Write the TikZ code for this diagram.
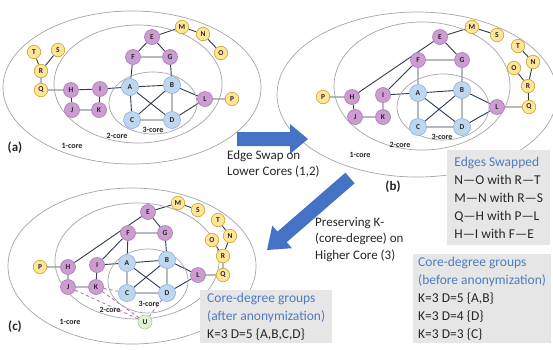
\documentclass[tikz,border=0pt]{standalone}
\usepackage{fontspec}
\setmainfont{Carlito}
\usetikzlibrary{backgrounds}
\pgfdeclarelayer{bottom}
\pgfsetlayers{bottom,background,main}
\definecolor{yfill}{RGB}{255,229,153}
\definecolor{ybord}{RGB}{201,162,39}
\definecolor{pfill}{RGB}{204,156,210}
\definecolor{pbord}{RGB}{166,123,181}
\definecolor{bfill}{RGB}{189,215,238}
\definecolor{bbord}{RGB}{143,170,220}
\definecolor{gfill}{RGB}{226,240,217}
\definecolor{gbord}{RGB}{169,209,142}
\definecolor{edgec}{RGB}{46,58,79}
\definecolor{ellc}{RGB}{166,166,166}
\definecolor{arrowc}{RGB}{68,114,196}
\definecolor{boxc}{RGB}{231,230,230}
\definecolor{titc}{RGB}{79,123,192}
\definecolor{dashc}{RGB}{176,95,176}
\definecolor{txtc}{RGB}{38,38,38}
\tikzset{
  vtx/.style={circle, inner sep=0pt, line width=0.6pt, text=txtc,
    font=\fontsize{7.5}{7.5}\selectfont\bfseries},
  yel/.style={vtx, draw=ybord, fill=yfill, minimum size=13.5pt},
  pur/.style={vtx, draw=pbord, fill=pfill, minimum size=15pt},
  blu/.style={vtx, draw=bbord, fill=bfill, minimum size=17pt},
  grn/.style={vtx, draw=gbord, fill=gfill, minimum size=14pt},
  edge/.style={draw=edgec, line width=0.9pt},
  dedge/.style={draw=dashc, dashed, line width=0.8pt},
  coreell/.style={draw=ellc, line width=0.7pt},
  corelab/.style={font=\fontsize{8}{8}\selectfont\bfseries, text=txtc, inner sep=0pt},
  panlab/.style={font=\fontsize{13}{13}\selectfont\bfseries, text=txtc, inner sep=0pt},
  bigarrow/.style={fill=arrowc, draw=none},
  infobox/.style={fill=boxc, align=left, anchor=north west, inner xsep=5pt, inner ysep=3pt,
    font=\fontsize{13.5}{18}\selectfont, text=txtc},
  plain/.style={align=left, anchor=north west, inner sep=0pt,
    font=\fontsize{13}{16.5}\selectfont, text=txtc}
}
\begin{document}
\begin{tikzpicture}[x=1pt,y=-1pt]
\useasboundingbox (0,0) rectangle (553,349);
\begin{pgfonlayer}{bottom}
\fill[white] (0,0) rectangle (553,349);
\end{pgfonlayer}

% ---------------- panel (a) ----------------
\draw[coreell] (132,87.5) ellipse [x radius=129pt, y radius=76.5pt];
\draw[coreell] (138,84) ellipse [x radius=84pt, y radius=59pt];
\draw[coreell] (153,103) ellipse [x radius=44pt, y radius=31pt];
\node[corelab] (a1c) at (72,146) {1-core};
\node[corelab] (a2c) at (117,136) {2-core};
\node[corelab] (a3c) at (153,130) {3-core};
\node[panlab] (alab) at (15,148) {(a)};

\node[yel] (aT) at (34,52) {T};
\node[yel] (aS) at (58,50) {S};
\node[yel] (aR) at (41,71) {R};
\node[yel] (aQ) at (41,90) {Q};
\node[pur] (aH) at (71,90) {H};
\node[pur] (aI) at (100,89) {I};
\node[pur] (aJ) at (72,110) {J};
\node[pur] (aK) at (99,110) {K};
\node[blu] (aA) at (130,87) {A};
\node[blu] (aB) at (172,85) {B};
\node[blu] (aC) at (132,120) {C};
\node[blu] (aD) at (172,120) {D};
\node[pur] (aL) at (205,99) {L};
\node[yel] (aP) at (232,99) {P};
\node[pur] (aF) at (133,57) {F};
\node[pur] (aG) at (170,57) {G};
\node[pur] (aE) at (152,37) {E};
\node[yel] (aM) at (182,27) {M};
\node[yel] (aN) at (203,34) {N};
\node[yel] (aO) at (221,53) {O};
\begin{scope}[on background layer]
\draw[edge] (aT)--(aR) (aS)--(aR) (aR)--(aQ) (aQ)--(aH) (aH)--(aI) (aH)--(aJ)
  (aJ)--(aK) (aK)--(aI) (aI)--(aA) (aA)--(aB) (aA)--(aC) (aA)--(aD) (aB)--(aC)
  (aB)--(aD) (aC)--(aD) (aB)--(aL) (aD)--(aL) (aL)--(aP) (aF)--(aA) (aG)--(aB)
  (aF)--(aG) (aE)--(aF) (aE)--(aG) (aE)--(aM) (aM)--(aN) (aN)--(aO);
\end{scope}

% ---------------- panel (b) ----------------
\draw[coreell] (417,94.5) ellipse [x radius=140pt, y radius=82.5pt];
\draw[coreell] (422,86) ellipse [x radius=88pt, y radius=64pt];
\draw[coreell] (443,107) ellipse [x radius=46pt, y radius=33pt];
\node[corelab] (b1c) at (360,155) {1-core};
\node[corelab] (b2c) at (400,145) {2-core};
\node[corelab] (b3c) at (442,137) {3-core};
\node[panlab] (blab) at (393,187) {(b)};

\node[yel] (bP) at (323,97) {P};
\node[pur] (bH) at (352,97) {H};
\node[pur] (bI) at (383,95) {I};
\node[pur] (bJ) at (355,117) {J};
\node[pur] (bK) at (383,117) {K};
\node[blu] (bA) at (418,93) {A};
\node[blu] (bB) at (462,90) {B};
\node[blu] (bC) at (418,127) {C};
\node[blu] (bD) at (462,127) {D};
\node[pur] (bL) at (497,107) {L};
\node[yel] (bQ) at (529,107) {Q};
\node[pur] (bF) at (418,60) {F};
\node[pur] (bG) at (462,60) {G};
\node[pur] (bE) at (440,37) {E};
\node[yel] (bM) at (472,27) {M};
\node[yel] (bS) at (497,35) {S};
\node[yel] (bT) at (518,46) {T};
\node[yel] (bN) at (533,62) {N};
\node[yel] (bO) at (514,68) {O};
\node[yel] (bR) at (528,86) {R};
\begin{scope}[on background layer]
\draw[edge] (bE)--(bM) (bM)--(bS) (bT)--(bN) (bN)--(bR) (bO)--(bR) (bR)--(bQ)
  (bQ)--(bL) (bE)--(bG) (bE)--(bH) (bF)--(bG) (bF)--(bA) (bF)--(bI) (bG)--(bB)
  (bH)--(bP) (bH)--(bJ) (bJ)--(bK) (bK)--(bI) (bI)--(bA) (bA)--(bB) (bA)--(bC)
  (bA)--(bD) (bB)--(bC) (bB)--(bD) (bC)--(bD) (bB)--(bL) (bD)--(bL);
\end{scope}

% ---------------- panel (c) ----------------
\draw[coreell] (132,266) ellipse [x radius=124pt, y radius=78pt];
\draw[coreell] (137,261) ellipse [x radius=82pt, y radius=58pt];
\draw[coreell] (148,281) ellipse [x radius=40pt, y radius=32pt];
\node[corelab] (c1c) at (70,322) {1-core};
\node[corelab] (c2c) at (110,310) {2-core};
\node[corelab] (c3c) at (149,304) {3-core};
\node[panlab] (clab) at (15,327) {(c)};

\node[yel] (cP) at (40,267) {P};
\node[pur] (cH) at (68,267) {H};
\node[pur] (cI) at (97,265) {I};
\node[pur] (cJ) at (68,287) {J};
\node[pur] (cK) at (96,287) {K};
\node[blu] (cA) at (127,263) {A};
\node[blu] (cB) at (167,260) {B};
\node[blu] (cC) at (127,293) {C};
\node[blu] (cD) at (167,293) {D};
\node[pur] (cL) at (198,275) {L};
\node[yel] (cQ) at (223,275) {Q};
\node[pur] (cF) at (128,233) {F};
\node[pur] (cG) at (165,233) {G};
\node[pur] (cE) at (148,212) {E};
\node[yel] (cM) at (178,203) {M};
\node[yel] (cS) at (198,210) {S};
\node[yel] (cT) at (218,220) {T};
\node[yel] (cN) at (230,236) {N};
\node[yel] (cO) at (212,240) {O};
\node[yel] (cR) at (223,256) {R};
\node[grn] (cU) at (145,322) {U};
\begin{scope}[on background layer]
\draw[edge] (cE)--(cM) (cM)--(cS) (cT)--(cN) (cN)--(cR) (cO)--(cR) (cR)--(cQ)
  (cQ)--(cL) (cE)--(cG) (cE)--(cH) (cF)--(cG) (cF)--(cA) (cF)--(cI) (cG)--(cB)
  (cH)--(cP) (cH)--(cJ) (cJ)--(cK) (cK)--(cI) (cI)--(cA) (cA)--(cB) (cA)--(cC)
  (cA)--(cD) (cB)--(cC) (cB)--(cD) (cC)--(cD) (cB)--(cL) (cD)--(cL);
\draw[dedge] (cK)--(cC) (cJ)--(cU) (cK)--(cU) (cD)--(cU);
\end{scope}

% ---------------- arrows and texts ----------------
\fill[bigarrow] (237,132) -- (290,132) -- (290,124) -- (308,139) -- (290,154)
  -- (290,146) -- (237,146) -- cycle;
\node[plain] (t1) at (227,150) {Edge Swap on\\Lower Cores (1,2)};

\fill[bigarrow] (345.4,172.7) -- (277.5,231.6) -- (272.3,225.6) -- (267,250)
  -- (291.9,248.2) -- (286.7,242.2) -- (354.6,183.3) -- cycle;
\node[plain] (t2) at (315,217) {Preserving K-\\(core-degree) on\\Higher Core (3)};

\node[infobox, minimum width=103pt, minimum height=95pt] (swap) at (447,150)
  {\textcolor{titc}{Edges Swapped}\\N—O with R—T\\M—N with R—S\\Q—H with P—L\\H—I with F—E};
\node[infobox, minimum width=137pt] (before) at (413,254)
  {\textcolor{titc}{Core-degree groups}\\\textcolor{titc}{(before anonymization)}\\K=3 D=5 \{A,B\}\\K=3 D=4 \{D\}\\K=3 D=3 \{C\}};
\node[infobox, minimum width=132pt] (after) at (200,290)
  {\textcolor{titc}{Core-degree groups}\\\textcolor{titc}{(after anonymization)}\\K=3 D=5 \{A,B,C,D\}};
\end{tikzpicture}
\end{document}
